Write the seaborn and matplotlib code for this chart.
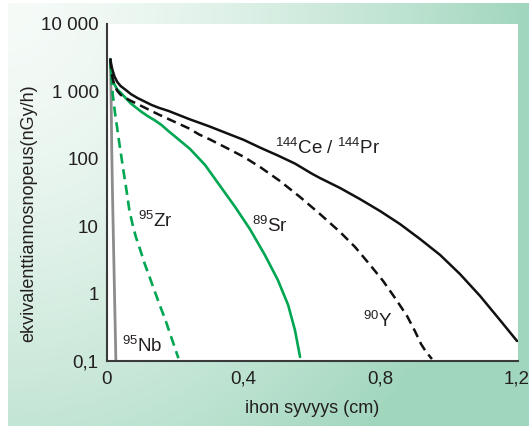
import numpy as np
import pandas as pd
import matplotlib
matplotlib.use("Agg")
import matplotlib.pyplot as plt
import seaborn as sns

# ---- data ----
ce_x = [0.010, 0.013, 0.017, 0.022, 0.030, 0.040, 0.055, 0.070, 0.09, 0.11, 0.13, 0.15, 0.18, 0.21, 0.24, 0.27,
        0.30, 0.35, 0.40, 0.45, 0.50, 0.55, 0.60, 0.623, 0.682, 0.740, 0.799, 0.857, 0.916, 0.975, 1.033,
        1.092, 1.150, 1.200]
ce_y = [3000, 2400, 2000, 1660, 1380, 1200, 1050, 912, 794, 708, 631, 575, 513, 447, 389, 343,
        302, 240, 191, 145, 112, 85, 60, 51.9, 36.9, 25.3, 16.8, 10.8, 6.46, 3.74, 1.95,
        0.92, 0.405, 0.198]

y90_x = [0.010, 0.013, 0.017, 0.022, 0.030, 0.040, 0.055, 0.07, 0.09, 0.11, 0.13, 0.15, 0.18, 0.21, 0.24, 0.27,
         0.30, 0.35, 0.40, 0.448, 0.506, 0.565, 0.623, 0.682, 0.726, 0.770, 0.808, 0.843, 0.878, 0.901,
         0.919, 0.934, 0.951]
y90_y = [3000, 2000, 1510, 1230, 1020, 890, 794, 724, 646, 575, 513, 457, 389, 331, 282, 229,
         195, 145, 107, 75.5, 46.9, 27.1, 15.2, 8.2, 4.91, 2.66, 1.54, 0.86, 0.466, 0.279,
         0.179, 0.136, 0.107]

sr_x = [0.010, 0.012, 0.015, 0.020, 0.030, 0.040, 0.055, 0.07, 0.085, 0.10, 0.12, 0.14, 0.16, 0.18, 0.194,
        0.243, 0.287, 0.331, 0.375, 0.418, 0.462, 0.500, 0.530, 0.550, 0.565]
sr_y = [3000, 2000, 1585, 1318, 1070, 955, 794, 661, 575, 501, 427, 372, 316, 257, 225,
        140, 81, 39.5, 19.3, 9.1, 3.74, 1.59, 0.68, 0.288, 0.115]

zr_x = [0.010, 0.013, 0.017, 0.021, 0.025, 0.030, 0.035, 0.040, 0.045, 0.050, 0.055, 0.060, 0.065, 0.075,
        0.085, 0.097, 0.11, 0.125, 0.14, 0.155, 0.17, 0.185, 0.20, 0.209]
zr_y = [3000, 1585, 891, 603, 417, 282, 186, 126, 85, 57.5, 39.8, 26.9, 17.8, 10.5,
        6.8, 4.5, 2.8, 1.74, 1.07, 0.66, 0.42, 0.25, 0.15, 0.11]

nb_x = [0.010, 0.011, 0.012, 0.013, 0.014, 0.016, 0.018, 0.020, 0.022, 0.024, 0.026]
nb_y = [3000, 1585, 794, 316, 126, 31.6, 10, 3.16, 1, 0.316, 0.1]

x_ticks = [0, 0.4, 0.8, 1.2]
x_ticklabels = ["0", "0,4", "0,8", "1,2"]
y_ticks = [0.1, 1, 10, 100, 1000, 10000]
y_ticklabels = ["0,1", "1", "10", "100", "1 000", "10 000"]

labels = [r"$^{\mathrm{144}}$Ce / $^{\mathrm{144}}$Pr", r"$^{\mathrm{90}}$Y", r"$^{\mathrm{89}}$Sr",
          r"$^{\mathrm{95}}$Zr", r"$^{\mathrm{95}}$Nb"]
label_pos = [(0.645, 145), (0.793, 0.39), (0.477, 10), (0.14, 12), (0.102, 0.167)]

# ---- style ----
sns.set_theme(style="white")
plt.rcParams["font.family"] = ["Liberation Sans", "DejaVu Sans"]
plt.rcParams["mathtext.fontset"] = "custom"
plt.rcParams["mathtext.rm"] = "Liberation Sans"
plt.rcParams["mathtext.it"] = "Liberation Sans:italic"
plt.rcParams["mathtext.bf"] = "Liberation Sans:bold"

TXT = "#231f20"
GREEN = "#00a651"
BLACK = "#111111"
GRAY = "#8c8c8c"
SPINE = "#3a3a3a"

W, H = 529, 426
fig = plt.figure(figsize=(W / 100, H / 100), dpi=100)

# background gradient
bg = fig.add_axes([8 / W, 0, (W - 8) / W, (H - 3) / H])
bw, bh = 521, 423
xx, yy = np.meshgrid(np.arange(bw), np.arange(bh))
t = np.clip(np.sqrt((xx / 520.0) ** 2 + (yy / 600.0) ** 2), 0, 1) ** 1.5
c0 = np.array([246, 251, 248]) / 255.0
c1 = np.array([160, 214, 189]) / 255.0
img = c0[None, None, :] * (1 - t[..., None]) + c1[None, None, :] * t[..., None]
bg.imshow(img, aspect="auto", extent=[0, 1, 0, 1])
bg.set_axis_off()

# main axes
left, right, top, bottom = 107, 518, 24, 361
ax = fig.add_axes([left / W, (H - bottom) / H, (right - left) / W, (bottom - top) / H])
ax.set_facecolor("white")

def line(x, y, color, ls, lw):
    df = pd.DataFrame({"x": x, "y": y})
    sns.lineplot(data=df, x="x", y="y", ax=ax, color=color, linestyle=ls, linewidth=lw,
                 estimator=None, sort=False, legend=False)

line(nb_x, nb_y, GRAY, "-", 2.0)
line(zr_x, zr_y, GREEN, (0, (3.8, 2.2)), 1.9)
line(sr_x, sr_y, GREEN, "-", 1.9)
line(y90_x, y90_y, BLACK, (0, (3.8, 2.2)), 1.8)
line(ce_x, ce_y, BLACK, "-", 1.8)

ax.set_yscale("log")
ax.set_xlim(0, (right - left) / 341.7)
ax.set_ylim(0.1, 10000)
ax.set_xticks(x_ticks)
ax.set_xticklabels(x_ticklabels)
ax.set_yticks(y_ticks)
ax.set_yticklabels(y_ticklabels)
ax.yaxis.set_minor_locator(matplotlib.ticker.NullLocator())

for s in ["top", "right"]:
    ax.spines[s].set_visible(False)
for s in ["left", "bottom"]:
    ax.spines[s].set_color(SPINE)
    ax.spines[s].set_linewidth(1.5)
ax.tick_params(axis="both", direction="in", length=6, width=1.5, color=SPINE,
               labelsize=13.5, labelcolor=TXT)
ax.tick_params(axis="x", pad=7)
ax.tick_params(axis="y", pad=6)

ax.set_xlabel("ihon syvyys (cm)", fontsize=13, color=TXT)
ax.set_ylabel("ekvivalenttiannosnopeus(nGy/h)", fontsize=13, color=TXT)
ax.xaxis.set_label_coords(0.5, -0.142)
ax.yaxis.set_label_coords(-0.19, 0.438)
ax.xaxis.label.set_va("center")
ax.yaxis.label.set_va("center")

for txt, (lx, ly) in zip(labels, label_pos):
    ax.text(lx, ly, txt, fontsize=13.5, color=TXT, ha="center", va="center")

fig.savefig("out.png", dpi=100)
